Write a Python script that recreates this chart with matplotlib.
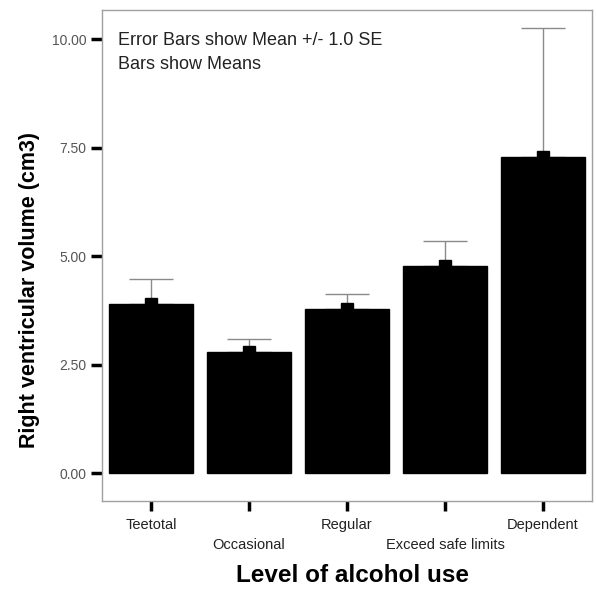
import matplotlib
matplotlib.use("Agg")
import matplotlib.pyplot as plt

categories = ["Teetotal", "Occasional", "Regular", "Exceed safe limits", "Dependent"]
means = [3.89, 2.79, 3.78, 4.77, 7.28]
upper = [4.47, 3.09, 4.12, 5.35, 10.25]
yticks = [0.0, 2.5, 5.0, 7.5, 10.0]

plt.rcParams['font.family'] = ['Liberation Sans', 'DejaVu Sans']

fig = plt.figure(figsize=(5.96, 5.91), dpi=100)
ax = fig.add_axes([102/596, 1-501/591, 490/596, 491/591])

x = list(range(len(categories)))
ax.bar(x, means, width=0.86, color='black', edgecolor='black', zorder=2)
err = [u - m for u, m in zip(upper, means)]
ax.errorbar(x, means, yerr=[[0]*len(err), err], fmt='none', ecolor='#8a8a8a',
            elinewidth=1.0, capsize=15.5, capthick=1.0, zorder=1)
ax.plot(x, means, linestyle='none', marker='s', markersize=8.5, color='black', zorder=3)

ax.set_xlim(-0.5, 4.5)
ax.set_ylim(-0.645, 10.67)
ax.set_yticks(yticks)
ax.set_yticklabels([f"{v:.2f}" for v in yticks], fontsize=10, color='#555555')
ax.set_xticks(x)
labels = []
for i, c in enumerate(categories):
    labels.append(c if i % 2 == 0 else "\n" + c)
ax.set_xticklabels(labels, fontsize=10.5, color='#222222', linespacing=1.55)
ax.tick_params(axis='y', direction='out', length=8, width=2.5, color='black', pad=3)
ax.tick_params(axis='x', direction='out', length=7, width=2.5, color='black', pad=5)

for s in ax.spines.values():
    s.set_color('#a0a0a0')
    s.set_linewidth(1.0)

ax.text(0.032, 0.938, "Error Bars show Mean +/- 1.0 SE", transform=ax.transAxes,
        fontsize=13, color='#222222', va='center', ha='left')
ax.text(0.032, 0.888, "Bars show Means", transform=ax.transAxes,
        fontsize=13, color='#222222', va='center', ha='left')

fig.text(30/596, 1-290/591, "Right ventricular volume (cm3)", rotation=90,
         fontsize=15.5, fontweight='bold', ha='center', va='center')
fig.text(353/596, 1-576/591, "Level of alcohol use", fontsize=17.5, fontweight='bold',
         ha='center', va='center')

fig.savefig("out.png", dpi=100)
